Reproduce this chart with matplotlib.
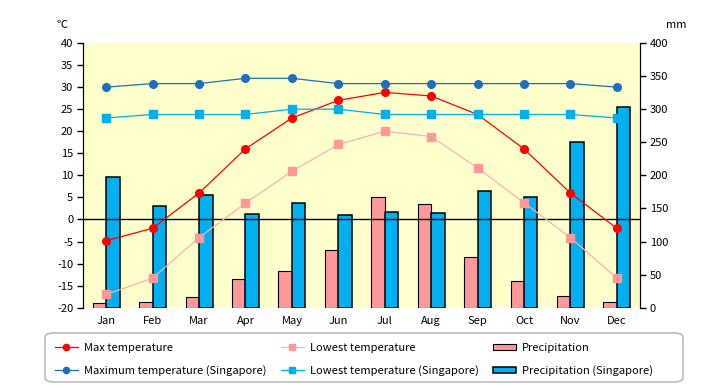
import matplotlib.pyplot as plt
from matplotlib.lines import Line2D
from matplotlib.patches import Patch, FancyBboxPatch
import numpy as np

plt.rcParams['font.family'] = ['Noto Sans CJK JP', 'DejaVu Sans']
plt.rcParams['axes.unicode_minus'] = False

months = ["Jan", "Feb", "Mar", "Apr", "May", "Jun",
          "Jul", "Aug", "Sep", "Oct", "Nov", "Dec"]
max_temp = [-4.8, -2.0, 6.0, 16.0, 23.0, 27.0, 28.8, 28.0, 23.8, 16.0, 6.0, -2.0]
low_temp = [-17.0, -13.3, -4.1, 3.7, 10.9, 17.0, 20.0, 18.8, 11.7, 3.8, -4.1, -13.3]
sg_max = [30.0, 30.8, 30.8, 32.0, 32.0, 30.8, 30.8, 30.8, 30.8, 30.8, 30.8, 30.0]
sg_low = [23.0, 23.8, 23.8, 23.8, 25.0, 25.0, 23.8, 23.8, 23.8, 23.8, 23.8, 23.0]
precip = [7, 8, 16, 43, 55, 87, 167, 156, 76, 41, 17, 8]
sg_precip = [197, 154, 170, 142, 158, 140, 144, 143, 176, 167, 251, 303]

x = np.arange(len(months))
bw = 0.29

fig = plt.figure(figsize=(7.2, 3.85), dpi=100)
ax = fig.add_axes([0.1153, 0.2008, 0.7736, 0.6875])
ax2 = ax.twinx()
ax.set_zorder(ax2.get_zorder() + 1)
ax.patch.set_visible(False)
ax2.patch.set_visible(True)
ax2.patch.set_facecolor("#FFFFCC")

# bars (right axis)
ax2.bar(x - bw / 2, precip, bw, color="#FF9999", edgecolor="black", linewidth=0.8)
ax2.bar(x + bw / 2, sg_precip, bw, color="#00B0F0", edgecolor="black", linewidth=1.1)

# lines (left axis)
ax.axhline(0, color="black", lw=1, zorder=1)
ax.plot(x, max_temp, color="#FF0000", lw=0.9, marker="o", ms=5.5, zorder=3)
ax.plot(x, low_temp, color="#FFB0B0", lw=0.9, marker="s", ms=5.5,
        mfc="#FF9999", mec="#FF9999", zorder=3)
ax.plot(x, sg_max, color="#1C6FBE", lw=0.9, marker="o", ms=5.5, zorder=3)
ax.plot(x, sg_low, color="#00B0F0", lw=0.9, marker="s", ms=5.5, zorder=3)

ax.set_xlim(-0.5, 11.5)
ax.set_ylim(-20, 40)
ax.set_yticks(range(-20, 41, 5))
ax2.set_ylim(0, 400)
ax2.set_yticks(range(0, 401, 50))
ax.set_xticks(x)
ax.set_xticklabels(months)

for a in (ax, ax2):
    a.spines["top"].set_visible(False)
    a.spines["bottom"].set_visible(False)
    a.tick_params(axis="y", direction="out", length=4, width=1, labelsize=8, pad=3)
ax.tick_params(axis="x", length=0, labelsize=8, pad=6)
ax2.tick_params(axis="x", length=0)

fig.text(0.078, 0.935, "℃", fontsize=8, ha="left", va="center")
fig.text(0.925, 0.935, "mm", fontsize=8, ha="left", va="center")

# legend
box = FancyBboxPatch((45 / 720, 3 / 385), 638 / 720, 49 / 385,
                     boxstyle="round,pad=0,rounding_size=0.012",
                     transform=fig.transFigure, facecolor="white",
                     edgecolor="#B0B0B0", lw=1)
fig.patches.append(box)
handles = [
    Line2D([], [], color="#FF0000", lw=0.9, marker="o", ms=4.5),
    Line2D([], [], color="#1C6FBE", lw=0.9, marker="o", ms=4.5),
    Line2D([], [], color="#FFB0B0", lw=0.9, marker="s", ms=4.5, mfc="#FF9999", mec="#FF9999"),
    Line2D([], [], color="#00B0F0", lw=0.9, marker="s", ms=4.5),
    Patch(facecolor="#FF9999", edgecolor="black", lw=0.8),
    Patch(facecolor="#00B0F0", edgecolor="black", lw=1.1),
]
labels = ["Max temperature", "Maximum temperature (Singapore)",
          "Lowest temperature", "Lowest temperature (Singapore)",
          "Precipitation", "Precipitation (Singapore)"]
fig.legend(handles, labels, ncol=3, frameon=False, fontsize=8,
           loc="upper left", bbox_to_anchor=(47 / 720, 1 - 335 / 385),
           handlelength=2.1, handletextpad=0.5, handleheight=0.5,
           columnspacing=1.3, labelspacing=1.1, borderpad=0.2)

fig.savefig("out.png", dpi=100)
